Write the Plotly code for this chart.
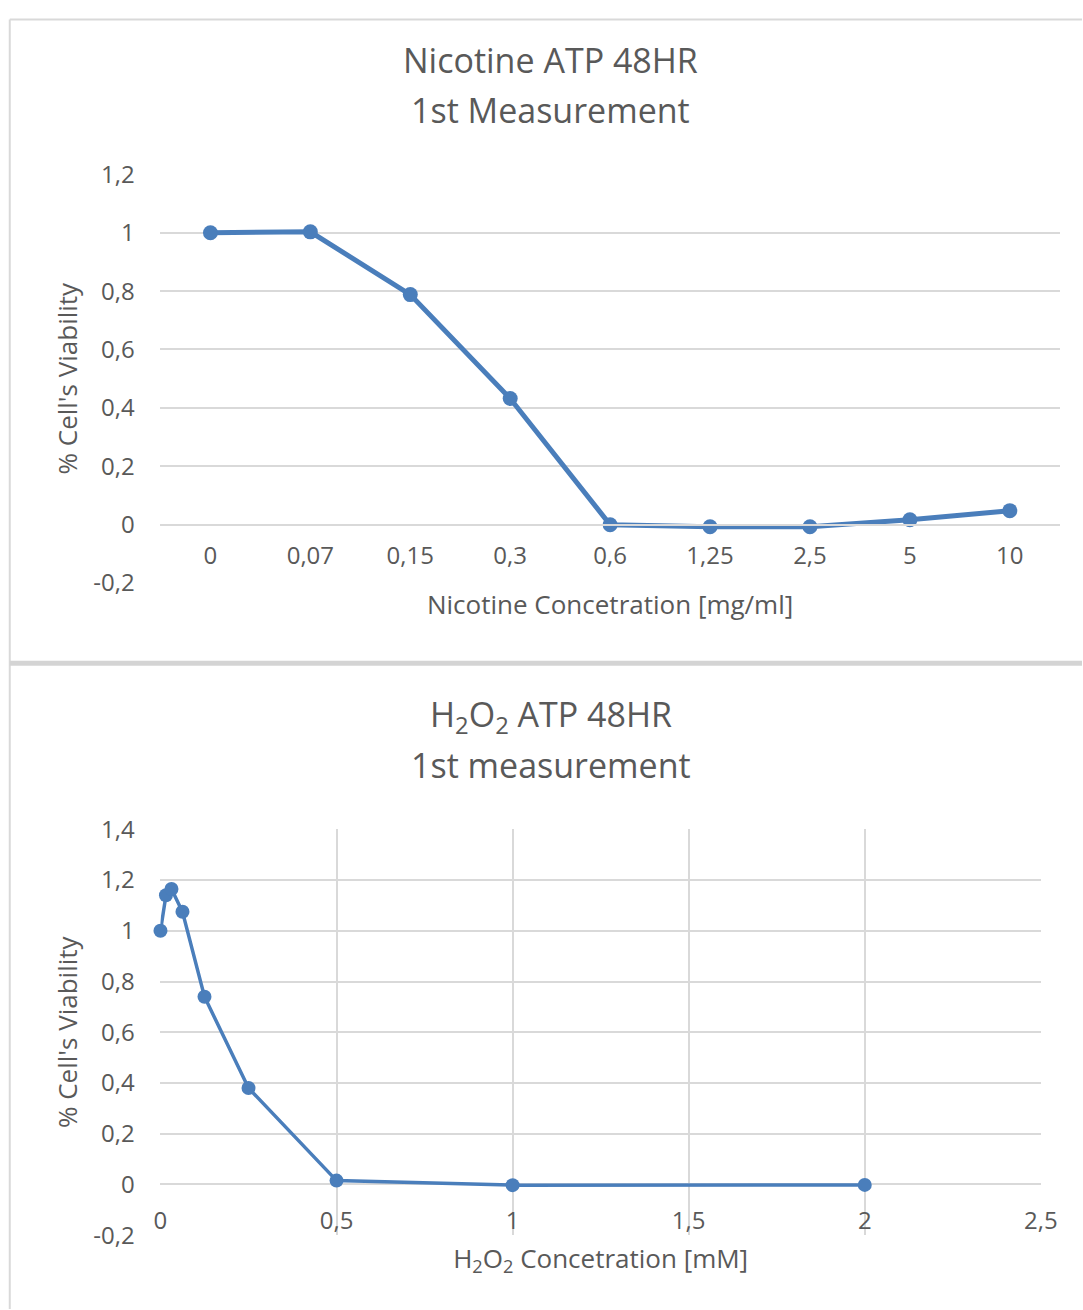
import plotly.graph_objects as go

# Nicotine series (categorical concentrations)
nic_labels = ["0", "0,07", "0,15", "0,3", "0,6", "1,25", "2,5", "5", "10"]
nic_viability = [1.0, 1.003, 0.788, 0.432, 0.0, -0.007, -0.007, 0.017, 0.048]

# H2O2 series (numeric concentrations, mM)
h2o2_conc = [0, 0.015625, 0.03125, 0.0625, 0.125, 0.25, 0.5, 1, 2]
h2o2_viability = [1.0, 1.14, 1.165, 1.075, 0.74, 0.38, 0.015, -0.003, -0.002]

# Axis tick definitions
top_yvals = [-0.2, 0, 0.2, 0.4, 0.6, 0.8, 1.0, 1.2]
top_ytext = ["-0,2", "0", "0,2", "0,4", "0,6", "0,8", "1", "1,2"]
bot_yvals = [-0.2, 0, 0.2, 0.4, 0.6, 0.8, 1.0, 1.2, 1.4]
bot_ytext = ["-0,2", "0", "0,2", "0,4", "0,6", "0,8", "1", "1,2", "1,4"]
bot_xvals = [0, 0.5, 1, 1.5, 2, 2.5]
bot_xtext = ["0", "0,5", "1", "1,5", "2", "2,5"]

# Layout helpers: convert a position on the 1083x1310 sheet into figure
# pixels (the page keeps its default body margin and is shown slightly
# reduced, so positions are pre-compensated).
SCALE_X, SCALE_Y = 0.98, 0.978
OFF_X, OFF_Y = -1.6, 7.4
BODY_MARGIN = 8


def fx(p):
    return (p - OFF_X) / SCALE_X - BODY_MARGIN


def fy(p):
    return (p - OFF_Y) / SCALE_Y - BODY_MARGIN


W, H = round(fx(1083)), round(fy(1310))


def px_x(p):
    return fx(p) / W


def px_y(p):
    return 1 - fy(p) / H


BLUE = "#4a7ebb"
GRID = "#d9d9d9"
TXT = "#595959"
FONT = "'Open Sans', Lato, sans-serif"

fig = go.Figure()

fig.add_trace(go.Scatter(
    x=nic_labels, y=nic_viability, mode="lines+markers",
    line=dict(color=BLUE, width=5), marker=dict(color=BLUE, size=15),
    xaxis="x", yaxis="y", showlegend=False, cliponaxis=False,
))
fig.add_trace(go.Scatter(
    x=h2o2_conc, y=h2o2_viability, mode="lines+markers",
    line=dict(color=BLUE, width=3.5), marker=dict(color=BLUE, size=14),
    xaxis="x2", yaxis="y2", showlegend=False, cliponaxis=False,
))

top_y0, top_y1 = px_y(582), px_y(172)
bot_y0, bot_y1 = px_y(1236), px_y(829)


def frac(v, lo, hi, d0, d1):
    return d0 + (v - lo) / (hi - lo) * (d1 - d0)


tick_font = dict(family=FONT, size=24, color=TXT)
title_font = dict(family=FONT, size=26, color=TXT)

fig.update_layout(
    width=W, height=H,
    margin=dict(l=0, r=0, t=0, b=0),
    paper_bgcolor="white", plot_bgcolor="white",
    separators=", ",
    font=dict(family=FONT, color=TXT),
    xaxis=dict(
        domain=[px_x(160), px_x(1061)],
        type="category", range=[-0.5, 8.5],
        anchor="free", position=frac(0, -0.2, 1.2, top_y0, top_y1),
        showgrid=False, showline=True, linecolor=GRID, linewidth=1.5,
        ticks="outside", ticklen=10, tickcolor="rgba(0,0,0,0)",
        tickfont=tick_font, fixedrange=True,
        title=dict(text="Nicotine Concetration [mg/ml]", font=title_font, standoff=25),
    ),
    yaxis=dict(
        domain=[top_y0, top_y1], range=[-0.2, 1.2],
        tickvals=top_yvals, ticktext=top_ytext,
        showgrid=True, gridcolor=GRID, gridwidth=1.5,
        zeroline=True, zerolinecolor=GRID, zerolinewidth=1.5,
        showline=False, ticks="outside", ticklen=20, tickcolor="rgba(0,0,0,0)",
        tickfont=tick_font, fixedrange=True,
        title=dict(text="% Cell's Viability", font=title_font, standoff=8),
    ),
    xaxis2=dict(
        domain=[px_x(160), px_x(1042)], range=[0, 2.5],
        anchor="free", position=frac(0, -0.2, 1.4, bot_y0, bot_y1),
        tickvals=bot_xvals, ticktext=bot_xtext,
        showgrid=True, gridcolor=GRID, gridwidth=1.5,
        zeroline=False, showline=False,
        ticks="outside", ticklen=15, tickcolor="rgba(0,0,0,0)",
        tickfont=tick_font, fixedrange=True,
        title=dict(text="H<sub>2</sub>O<sub>2</sub> Concetration [mM]", font=title_font, standoff=14),
    ),
    yaxis2=dict(
        domain=[bot_y0, bot_y1], range=[-0.2, 1.4],
        tickvals=bot_yvals, ticktext=bot_ytext,
        showgrid=True, gridcolor=GRID, gridwidth=1.5,
        zeroline=True, zerolinecolor=GRID, zerolinewidth=1.5,
        showline=False, ticks="outside", ticklen=20, tickcolor="rgba(0,0,0,0)",
        tickfont=tick_font, fixedrange=True,
        title=dict(text="% Cell's Viability", font=title_font, standoff=8),
    ),
)

# Chart titles, one annotation per line
title_lines = [
    ("Nicotine ATP 48HR", 57),
    ("1st Measurement", 107),
    ("H<sub>2</sub>O<sub>2</sub> ATP 48HR", 715),
    ("1st measurement", 764),
]
for text, ypix in title_lines:
    fig.add_annotation(
        text=text, x=px_x(551), y=px_y(ypix),
        xref="paper", yref="paper", showarrow=False, align="center",
        xanchor="center", yanchor="middle",
        font=dict(family=FONT, size=34, color=TXT),
    )

# Chart-area frames
border = dict(color=GRID, width=2)
top_edge = min(px_y(10), 1 - 1.5 / H)
fig.add_shape(type="line", xref="paper", yref="paper",
              x0=px_x(9), x1=1, y0=top_edge, y1=top_edge, line=border)
fig.add_shape(type="line", xref="paper", yref="paper",
              x0=px_x(9), x1=px_x(9), y0=top_edge, y1=0, line=border)
fig.add_shape(type="rect", xref="paper", yref="paper",
              x0=px_x(9), x1=1, y0=px_y(665), y1=px_y(660),
              line=dict(width=0), fillcolor="#d4d4d4")

page_css = (
    "document.documentElement.style.margin='0';"
    "document.body.style.margin='0';"
    "document.documentElement.style.overflow='hidden';"
    "document.body.style.overflow='hidden';"
)

fig.write_html("out.html", post_script=page_css)
